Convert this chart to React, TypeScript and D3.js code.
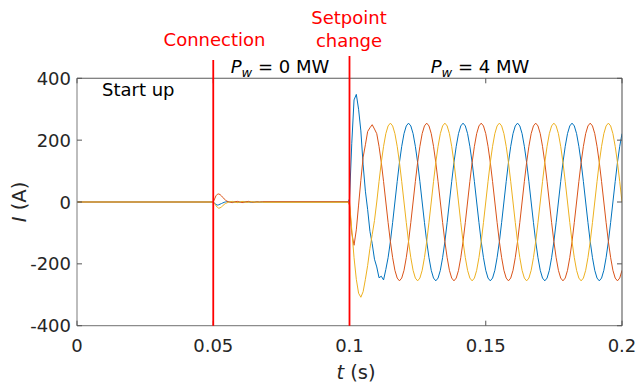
import React from "react";
import * as d3 from "d3";

// ---------- data ----------
const xTicks = [0, 0.05, 0.1, 0.15, 0.2];
const xTickLabels = ["0", "0.05", "0.1", "0.15", "0.2"];
const yTicks = [-400, -200, 0, 200, 400];
const yTickLabels = ["-400", "-200", "0", "200", "400"];

const eventTimes = [0.05, 0.1];
const eventLabels = [["Connection"], ["Setpoint", "change"]];

// start-up: line sits at zero
const startupTimes = [0, 0.05];
const startupBlue = [0, 0];
const startupRed = [0, 0];
const startupYellow = [0, 0];

// connection transient at 0.05 s, then (almost) flat until 0.1 s
const connectionTimes = [
  0.05, 0.0505, 0.051, 0.0515, 0.052, 0.0525, 0.053, 0.0535, 0.054, 0.0545, 0.055,
  0.0555, 0.056, 0.0565, 0.057, 0.058, 0.059, 0.06, 0.061, 0.062, 0.063, 0.064,
  0.065, 0.066, 0.067, 0.068, 0.08, 0.0995,
];
const connectionBlue = [
  0, -4, -8, -10, -9, -7, -5, -3, -1, 0, 1, 1, 0, 0, 0, 0, -1, 0, 1, 0, 0, -1, 0, 0, 0, 0, 0, 0,
];
const connectionRed = [
  0, 10, 20, 25, 26, 24, 20, 15, 10, 6, 3, 1, 0, -1, -2, 1, 2, -1, -2, 1, 2, 0, -1, 1, 0, 1, 1, 1,
];
const connectionYellow = [
  0, -5, -12, -17, -20, -19, -16, -12, -8, -5, -3, -1, 0, 1, 2, -1, -2, 1, 2, -1, -1, 1, 0, -1, 0, -1, -1, -1,
];

// after the setpoint change (sampled every 1/1200 s from 0.1 s)
const stepStart = 0.1;
const stepSampleTime = 1 / 1200;
const stepBlue = [
  10, 190, 330, 348, 300, 230, 120, 35, -25, -95, -135, -185, -210, -245, -240, -252, -218,
  -180, -128, -66, 0, 66, 128, 180, 221, 246,
  255, 246, 221, 180, 128, 66, 0, -66, -128, -180, -221, -246, -255, -246, -221, -180, -128, -66, 0, 66, 128, 180, 221, 246,
  255, 246, 221, 180, 128, 66, 0, -66, -128, -180, -221, -246, -255, -246, -221, -180, -128, -66, 0, 66, 128, 180, 221, 246,
  255, 246, 221, 180, 128, 66, 0, -66, -128, -180, -221, -246, -255, -246, -221, -180, -128, -66, 0, 66, 128, 180, 221, 246,
  255, 246, 221, 180, 128, 66, 0, -66, -128, -180, -221, -246, -255, -246, -221, -180, -128, -66, 0, 66, 128, 180, 221,
];
const stepRed = [
  -10, -100, -140, -90, -10, 70, 145, 185, 228, 240, 250, 236,
  221, 180, 128, 66, 0, -66, -128, -180, -221, -246, -255, -246, -221, -180, -128, -66, 0, 66, 128, 180, 221, 246,
  255, 246, 221, 180, 128, 66, 0, -66, -128, -180, -221, -246, -255, -246, -221, -180, -128, -66, 0, 66, 128, 180, 221, 246,
  255, 246, 221, 180, 128, 66, 0, -66, -128, -180, -221, -246, -255, -246, -221, -180, -128, -66, 0, 66, 128, 180, 221, 246,
  255, 246, 221, 180, 128, 66, 0, -66, -128, -180, -221, -246, -255, -246, -221, -180, -128, -66, 0, 66, 128, 180, 221, 246,
  255, 246, 221, 180, 128, 66, 0, -66, -128, -180, -221, -246, -255, -246, -221,
];
const stepYellow = [
  0, -90, -180, -250, -295, -308, -290, -250, -205, -150, -105, -60,
  0, 66, 128, 180, 221, 246,
  255, 246, 221, 180, 128, 66, 0, -66, -128, -180, -221, -246, -255, -246, -221, -180, -128, -66, 0, 66, 128, 180, 221, 246,
  255, 246, 221, 180, 128, 66, 0, -66, -128, -180, -221, -246, -255, -246, -221, -180, -128, -66, 0, 66, 128, 180, 221, 246,
  255, 246, 221, 180, 128, 66, 0, -66, -128, -180, -221, -246, -255, -246, -221, -180, -128, -66, 0, 66, 128, 180, 221, 246,
  255, 246, 221, 180, 128, 66, 0, -66, -128, -180, -221, -246, -255, -246, -221, -180, -128, -66, 0, 66, 128, 180, 221, 246,
  255, 246, 221, 180, 128, 66, 0,
];

const seriesColors = ["#0072BD", "#D95319", "#EDB120"];

// ---------- layout ----------
const W = 638;
const H = 385;
const left = 77;
const right = 622;
const top = 78.3;
const bottom = 325.7;
const FONT = "'DejaVu Sans', sans-serif";
const RED = "#ff0000";
const TXT = "#262626";

type Pt = [number, number];

function build(start: number[], conn: number[], step: number[]): Pt[] {
  const pts: Pt[] = [];
  startupTimes.forEach((t, i) => pts.push([t, start[i]]));
  connectionTimes.forEach((t, i) => pts.push([t, conn[i]]));
  step.forEach((v, i) => pts.push([stepStart + i * stepSampleTime, v]));
  return pts;
}

export default function App() {
  const x = d3.scaleLinear().domain([0, 0.2]).range([left, right]);
  const y = d3.scaleLinear().domain([-400, 400]).range([bottom, top]);
  const line = d3
    .line<Pt>()
    .x((d) => x(d[0]))
    .y((d) => y(d[1]))
    .curve(d3.curveLinear);

  const series = [
    build(startupBlue, connectionBlue, stepBlue),
    build(startupRed, connectionRed, stepRed),
    build(startupYellow, connectionYellow, stepYellow),
  ];

  const eventTop = [60, 56];

  return (
    <svg
      width={W}
      height={H}
      style={{ position: "absolute", left: 0, top: 0, background: "#fff" }}
      fontFamily={FONT}
    >
      <rect x={0} y={0} width={W} height={H} fill="#fff" />
      <defs>
        <clipPath id="plotclip">
          <rect x={left} y={top} width={right - left} height={bottom - top} />
        </clipPath>
      </defs>

      {/* data */}
      <g clipPath="url(#plotclip)">
        {series.map((s, i) => (
          <path
            key={i}
            d={line(s) || ""}
            fill="none"
            stroke={seriesColors[i]}
            strokeWidth={1}
            strokeLinejoin="round"
          />
        ))}
      </g>

      {/* frame */}
      <line x1={left} x2={left} y1={top} y2={bottom} stroke="#9a9a9a" strokeWidth={1.3} />
      <line x1={left} x2={right} y1={bottom} y2={bottom} stroke="#8c8c8c" strokeWidth={1.3} />
      <line x1={left} x2={right} y1={top} y2={top} stroke="#5a5a5a" strokeWidth={1.1} />
      <line x1={right} x2={right} y1={top} y2={bottom} stroke="#5a5a5a" strokeWidth={1.1} />

      {/* ticks */}
      {yTicks.map((v) => (
        <g key={"yt" + v}>
          <line x1={left} x2={left + 5} y1={y(v)} y2={y(v)} stroke="#555" strokeWidth={1} />
          <line x1={right} x2={right - 5} y1={y(v)} y2={y(v)} stroke="#555" strokeWidth={1} />
        </g>
      ))}
      {xTicks.map((v) => (
        <g key={"xt" + v}>
          <line x1={x(v)} x2={x(v)} y1={bottom} y2={bottom - 5} stroke="#555" strokeWidth={1} />
          <line x1={x(v)} x2={x(v)} y1={top} y2={top + 5} stroke="#555" strokeWidth={1} />
        </g>
      ))}

      {/* tick labels */}
      {yTicks.map((v, i) => (
        <text
          key={"yl" + v}
          x={left - 6}
          y={y(v) + 6.5}
          textAnchor="end"
          fontSize={18}
          fill={TXT}
        >
          {yTickLabels[i]}
        </text>
      ))}
      {xTicks.map((v, i) => (
        <text
          key={"xl" + v}
          x={x(v)}
          y={352}
          textAnchor="middle"
          fontSize={18}
          fill={TXT}
        >
          {xTickLabels[i]}
        </text>
      ))}

      {/* axis labels */}
      <text x={356} y={379} textAnchor="middle" fontSize={19.5} fill={TXT}>
        <tspan fontStyle="italic">t</tspan> (s)
      </text>
      <text
        transform="translate(26,202) rotate(-90)"
        textAnchor="middle"
        fontSize={19.5}
        fill={TXT}
      >
        <tspan fontStyle="italic">I</tspan> (A)
      </text>

      {/* event markers */}
      {eventTimes.map((t, i) => (
        <line
          key={"ev" + i}
          x1={x(t)}
          x2={x(t)}
          y1={eventTop[i]}
          y2={bottom}
          stroke={RED}
          strokeWidth={1.8}
        />
      ))}
      <text x={214.5} y={46} textAnchor="middle" fontSize={18} fill={RED}>
        {eventLabels[0][0]}
      </text>
      <text x={349} y={24} textAnchor="middle" fontSize={18} fill={RED}>
        {eventLabels[1][0]}
      </text>
      <text x={349} y={46.5} textAnchor="middle" fontSize={18} fill={RED}>
        {eventLabels[1][1]}
      </text>

      {/* annotations */}
      <text x={102} y={96} fontSize={18} fill="#000">
        Start up
      </text>
      <text x={280} y={73} textAnchor="middle" fontSize={18} fill="#000">
        <tspan fontStyle="italic">P</tspan>
        <tspan fontStyle="italic" fontSize={13} dy={4}>
          w
        </tspan>
        <tspan dy={-4}> = 0 MW</tspan>
      </text>
      <text x={480} y={73} textAnchor="middle" fontSize={18} fill="#000">
        <tspan fontStyle="italic">P</tspan>
        <tspan fontStyle="italic" fontSize={13} dy={4}>
          w
        </tspan>
        <tspan dy={-4}> = 4 MW</tspan>
      </text>
    </svg>
  );
}
